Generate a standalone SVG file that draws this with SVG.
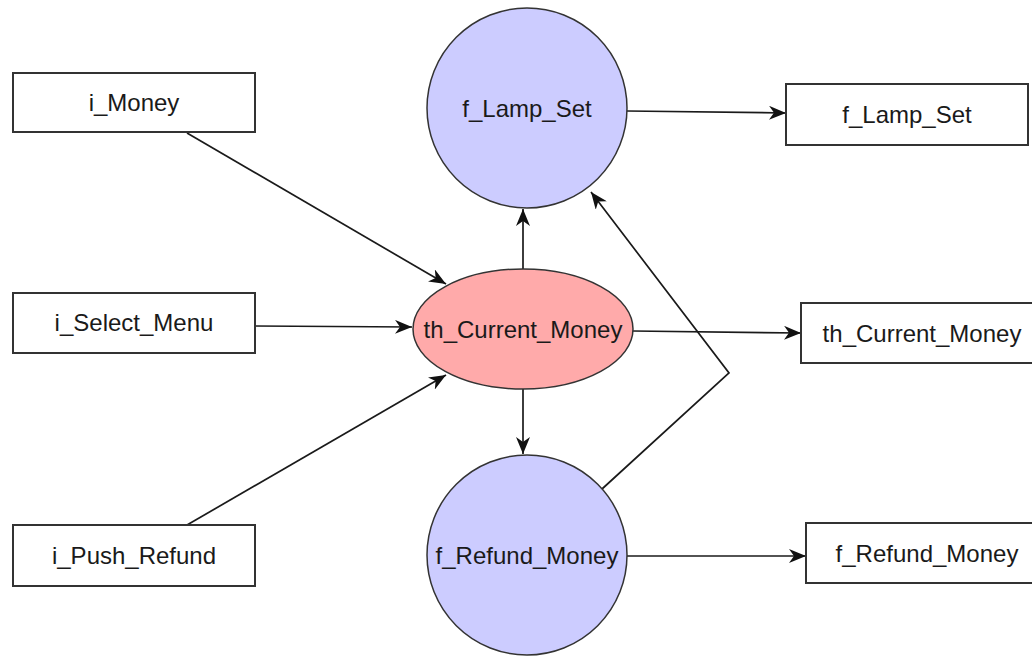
<svg xmlns="http://www.w3.org/2000/svg" width="1032" height="656" viewBox="0 0 1032 656">
  <style>
    .box { fill: #ffffff; stroke: #333333; stroke-width: 2; }
    .proc { fill: #ccccff; stroke: #333333; stroke-width: 1.5; }
    .store { fill: #ffaaaa; stroke: #333333; stroke-width: 1.5; }
    .label { font-family: "Liberation Sans", Arial, sans-serif; font-size: 24px; fill: #1a1a1a; text-anchor: middle; }
    .edge { fill: none; stroke: #1a1a1a; stroke-width: 1.7; marker-end: url(#arrow); }
  </style>
  <defs>
    <!-- concave "classic" arrowhead -->
    <marker id="arrow" markerUnits="userSpaceOnUse" markerWidth="18" markerHeight="14" refX="17" refY="7" orient="auto">
      <path d="M0,0 L17,7 L0,14 L5,7 Z" fill="#111111"/>
    </marker>
  </defs>
  <rect width="1032" height="656" fill="#ffffff"/>

  <g id="connectors">
    <line class="edge" x1="187" y1="133" x2="446" y2="284"/>
    <line class="edge" x1="255" y1="326" x2="412" y2="327"/>
    <line class="edge" x1="187" y1="525" x2="446" y2="375"/>
    <line class="edge" x1="523" y1="269" x2="523" y2="209"/>
    <line class="edge" x1="523" y1="389" x2="523" y2="454"/>
    <line class="edge" x1="633" y1="331" x2="801" y2="333"/>
    <line class="edge" x1="627" y1="111" x2="786" y2="113"/>
    <line class="edge" x1="627" y1="556" x2="806" y2="556"/>
    <polyline class="edge" points="602,489 729,373 591,192"/>
  </g>

  <g id="i_Money">
    <rect class="box" x="13" y="73" width="242" height="59"/>
    <text class="label" x="134" y="111">i_Money</text>
  </g>
  <g id="i_Select_Menu">
    <rect class="box" x="13" y="293" width="242" height="60"/>
    <text class="label" x="134" y="331">i_Select_Menu</text>
  </g>
  <g id="i_Push_Refund">
    <rect class="box" x="13" y="525" width="242" height="61"/>
    <text class="label" x="134" y="564">i_Push_Refund</text>
  </g>

  <g id="f_Lamp_Set">
    <circle class="proc" cx="527" cy="108" r="100"/>
    <text class="label" x="527" y="117">f_Lamp_Set</text>
  </g>
  <g id="th_Current_Money">
    <ellipse class="store" cx="523" cy="329" rx="110" ry="60"/>
    <text class="label" x="523" y="338">th_Current_Money</text>
  </g>
  <g id="f_Refund_Money">
    <circle class="proc" cx="527" cy="555" r="100"/>
    <text class="label" x="527" y="564">f_Refund_Money</text>
  </g>

  <g id="out_f_Lamp_Set">
    <rect class="box" x="786" y="84" width="242" height="61"/>
    <text class="label" x="907" y="123">f_Lamp_Set</text>
  </g>
  <g id="out_th_Current_Money">
    <rect class="box" x="801" y="303" width="242" height="60"/>
    <text class="label" x="922" y="342">th_Current_Money</text>
  </g>
  <g id="out_f_Refund_Money">
    <rect class="box" x="806" y="523" width="242" height="60"/>
    <text class="label" x="927" y="562">f_Refund_Money</text>
  </g>
</svg>
